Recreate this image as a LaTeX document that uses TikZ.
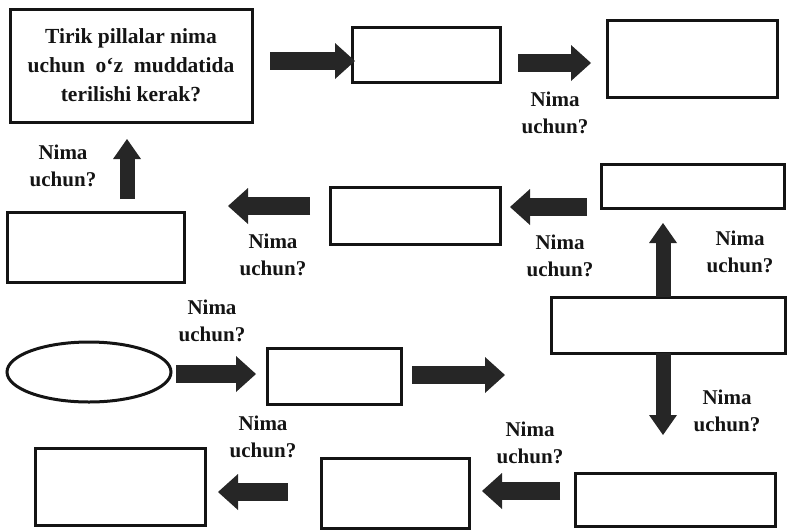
\documentclass[tikz,border=0pt]{standalone}
\usepackage{fontspec}
\setmainfont{Liberation Serif}
\usetikzlibrary{arrows.meta,shapes.geometric}
\begin{document}
\begin{tikzpicture}[x=1pt,y=-1pt,
 box/.style={draw=black!92, line width=3pt, inner sep=0pt, rectangle, fill=white},
 oval/.style={draw=black!92, line width=3pt, inner sep=0pt, ellipse},
 lbl/.style={font=\fontsize{21}{27}\selectfont\bfseries, align=center, inner sep=0pt, text=black!92},
 harrow/.style={line width=18pt, draw=black!85, -{Triangle[length=20pt,width=36pt,line width=0pt]}},
 varrow/.style={line width=15pt, draw=black!85, -{Triangle[length=20pt,width=28pt,line width=0pt]}},
]
\useasboundingbox (0,0) rectangle (787,531);
% boxes
\node[box, minimum width=242pt, minimum height=113pt, font=\fontsize{21.5}{29}\selectfont\bfseries, align=center, text=black!92] (b1) at (131,65.5) {Tirik pillalar nima\\uchun~ o‘z~ muddatida\\terilishi kerak?};
\node[box, minimum width=148pt, minimum height=55pt] (b2) at (426,54.5) {};
\node[box, minimum width=170pt, minimum height=77pt] (b3) at (692,58.5) {};
\node[box, minimum width=183pt, minimum height=44pt] (b4) at (692.5,186) {};
\node[box, minimum width=170pt, minimum height=57pt] (b5) at (415,215.5) {};
\node[box, minimum width=177pt, minimum height=70pt] (b6) at (95.5,247) {};
\node[box, minimum width=234pt, minimum height=56pt] (b7) at (668,325) {};
\node[oval, minimum width=164pt, minimum height=60pt] (e) at (89,372) {};
\node[box, minimum width=134pt, minimum height=56pt] (b11) at (334,376) {};
\node[box, minimum width=200pt, minimum height=53pt] (b8) at (675,499.5) {};
\node[box, minimum width=148pt, minimum height=70pt] (b9) at (395,493) {};
\node[box, minimum width=170pt, minimum height=77pt] (b10) at (120,486.5) {};
% arrow end points
\coordinate (a1s) at (270,61);  \coordinate (a1e) at (355,61);
\coordinate (a2s) at (518,63);  \coordinate (a2e) at (591,63);
\coordinate (a3s) at (587,207); \coordinate (a3e) at (510,207);
\coordinate (a4s) at (310,206); \coordinate (a4e) at (228,206);
\coordinate (a5s) at (127,199); \coordinate (a5e) at (127,139);
\coordinate (a6s) at (663,297); \coordinate (a6e) at (663,223);
\coordinate (a7s) at (663,353); \coordinate (a7e) at (663,435);
\coordinate (a8s) at (176,374); \coordinate (a8e) at (256,374);
\coordinate (a9s) at (412,375); \coordinate (a9e) at (505,375);
\coordinate (a10s) at (560,491); \coordinate (a10e) at (482,491);
\coordinate (a11s) at (288,492); \coordinate (a11e) at (218,492);
\draw[harrow] (a1s) -- (a1e);
\draw[harrow] (a2s) -- (a2e);
\draw[harrow] (a3s) -- (a3e);
\draw[harrow] (a4s) -- (a4e);
\draw[varrow] (a5s) -- (a5e);
\draw[varrow] (a6s) -- (a6e);
\draw[varrow] (a7s) -- (a7e);
\draw[harrow] (a8s) -- (a8e);
\draw[harrow] (a9s) -- (a9e);
\draw[harrow] (a10s) -- (a10e);
\draw[harrow] (a11s) -- (a11e);
% labels
\node[lbl] (l1) at (555,113) {Nima\\uchun?};
\node[lbl] (l2) at (560,256) {Nima\\uchun?};
\node[lbl] (l3) at (273,255) {Nima\\uchun?};
\node[lbl] (l4) at (63,166) {Nima\\uchun?};
\node[lbl] (l5) at (740,252) {Nima\\uchun?};
\node[lbl] (l6) at (212,321) {Nima\\uchun?};
\node[lbl] (l7) at (727,411) {Nima\\uchun?};
\node[lbl] (l8) at (530,443) {Nima\\uchun?};
\node[lbl] (l9) at (263,437) {Nima\\uchun?};
\end{tikzpicture}
\end{document}
